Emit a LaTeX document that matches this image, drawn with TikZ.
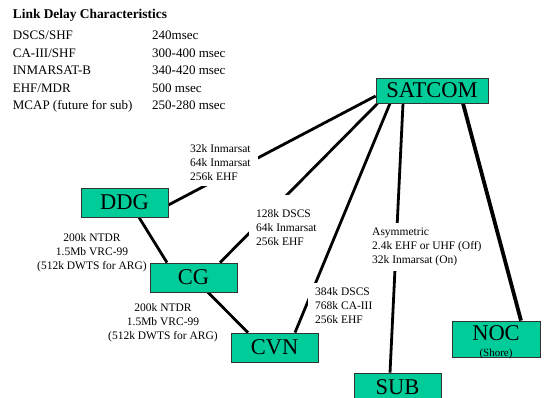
\documentclass[tikz,border=0pt]{standalone}
\usepackage{fontspec}
\setmainfont{Liberation Serif}
\usetikzlibrary{backgrounds}
\definecolor{boxgreen}{RGB}{0,204,153}
\begin{document}
\begin{tikzpicture}[x=1pt,y=-1pt,
  box/.style={draw=black!80, line width=0.8pt, fill=boxgreen, inner sep=0pt, font=\fontsize{22.5}{27}\selectfont},
  boxtext/.style={inner sep=0pt, font=\fontsize{22.5}{27}\selectfont},
  lab/.style={fill=white, align=left, inner xsep=7pt, inner ysep=5pt, font=\fontsize{11.5}{14}\selectfont, anchor=west},
  clab/.style={align=center, inner sep=0pt, font=\fontsize{11.5}{14}\selectfont},
  link/.style={line width=2.8pt},
  thicklink/.style={line width=3.8pt},
  tab/.style={anchor=base west, inner sep=0pt, font=\fontsize{13}{15}\selectfont}]
\useasboundingbox (0,0) rectangle (548,398);

% table
\node[tab, font=\fontsize{13.4}{16}\selectfont\bfseries] (title) at (12.7,18.3) {Link Delay Characteristics};
\node[tab] (r1a) at (12.7,40) {DSCS/SHF};
\node[tab] (r1b) at (152,40) {240msec};
\node[tab] (r2a) at (12.7,57.4) {CA-III/SHF};
\node[tab] (r2b) at (152,57.4) {300-400 msec};
\node[tab] (r3a) at (12.7,74.8) {INMARSAT-B};
\node[tab] (r3b) at (152,74.8) {340-420 msec};
\node[tab] (r4a) at (12.7,92.2) {EHF/MDR};
\node[tab] (r4b) at (152,92.2) {500 msec};
\node[tab] (r5a) at (12.7,109.6) {MCAP (future for sub)};
\node[tab] (r5b) at (152,109.6) {250-280 msec};

% boxes
\node[box, minimum width=112pt, minimum height=25pt] (satcom) at (432,90.5) {SATCOM};
\node[box, minimum width=87pt, minimum height=29pt] (ddg) at (124.5,202.5) {DDG};
\node[box, minimum width=87pt, minimum height=29pt] (cg) at (193.5,277.5) {CG};
\node[box, minimum width=87pt, minimum height=29pt] (cvn) at (274.5,347.5) {CVN};
\node[box, minimum width=87pt, minimum height=25pt] (sub) at (397.5,385.6) {};
\node[boxtext] (subtext) at (397.5,387) {SUB};
\node[box, minimum width=88pt, minimum height=36pt] (noc) at (496,339) {};
\node[boxtext] (noctext) at (496,333) {NOC};
\node[clab, font=\fontsize{11}{13}\selectfont] (shore) at (496,354) {(Shore)};

% links
\begin{pgfonlayer}{background}
\draw[link] ([yshift=-2.5pt]ddg.east) -- ([yshift=-5.5pt]satcom.west);
\draw[link] ([xshift=26.5pt]cg.north) -- ([xshift=2pt]satcom.south west);
\draw[link] ([xshift=20.5pt]cvn.north) -- ([xshift=-42pt]satcom.south);
\draw[link] ([xshift=-7.5pt]sub.north) -- ([xshift=-29pt]satcom.south);
\draw[thicklink] ([xshift=25pt]noc.north) -- ([xshift=31pt]satcom.south);
\draw[link] ([xshift=14.5pt]ddg.south) -- ([xshift=-26.5pt]cg.north);
\draw[link] ([xshift=14.5pt]cg.south) -- ([xshift=-26.5pt]cvn.north);
\end{pgfonlayer}

% labels
\node[lab] (l1) at (183,163) {32k Inmarsat\\64k Inmarsat\\256k EHF};
\node[lab, anchor=south west] (l2) at (249,251) {\rule{0pt}{18pt}128k DSCS\\64k Inmarsat\\256k EHF};
\node[lab] (l3) at (308,306) {384k DSCS\\768k CA-III\\256k EHF};
\node[lab] (l4) at (365,247) {Asymmetric\\2.4k EHF or UHF (Off)\\32k Inmarsat (On)};
\node[clab] (l5) at (92,253) {200k NTDR\\1.5Mb VRC-99\\(512k DWTS for ARG)};
\node[clab] (l6) at (163,323) {200k NTDR\\1.5Mb VRC-99\\(512k DWTS for ARG)};
\end{tikzpicture}
\end{document}
